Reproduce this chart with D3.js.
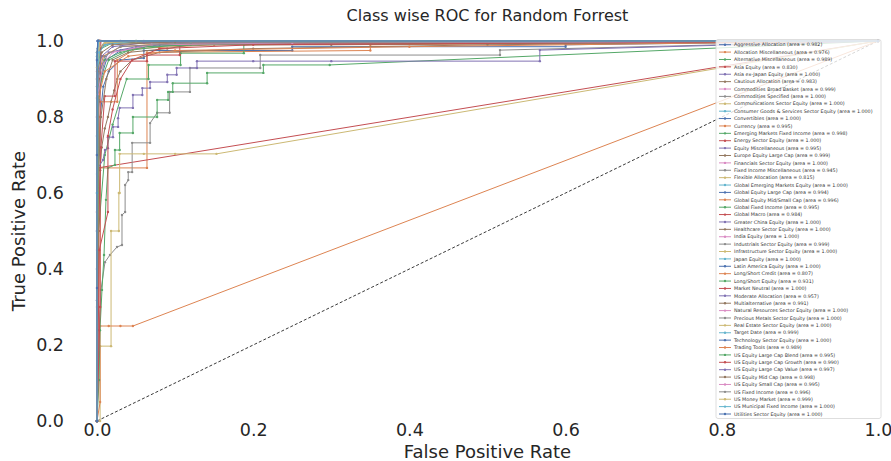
<!DOCTYPE html>
<html><head><meta charset="utf-8">
<script src="https://cdn.jsdelivr.net/npm/d3@7"></script>
<style>body{margin:0;background:#fff} svg{display:block;font-family:"DejaVu Sans",sans-serif}</style>
</head><body><svg id="chart" width="891" height="461"></svg>
<script>
const classNames = ["Aggressive Allocation","Allocation Miscellaneous","Alternative Miscellaneous","Asia Equity","Asia ex-Japan Equity","Cautious Allocation","Commodities Broad Basket","Commodities Specified","Communications Sector Equity","Consumer Goods & Services Sector Equity","Convertibles","Currency","Emerging Markets Fixed Income","Energy Sector Equity","Equity Miscellaneous","Europe Equity Large Cap","Financials Sector Equity","Fixed Income Miscellaneous","Flexible Allocation","Global Emerging Markets Equity","Global Equity Large Cap","Global Equity Mid/Small Cap","Global Fixed Income","Global Macro","Greater China Equity","Healthcare Sector Equity","India Equity","Industrials Sector Equity","Infrastructure Sector Equity","Japan Equity","Latin America Equity","Long/Short Credit","Long/Short Equity","Market Neutral","Moderate Allocation","Multialternative","Natural Resources Sector Equity","Precious Metals Sector Equity","Real Estate Sector Equity","Target Date","Technology Sector Equity","Trading Tools","US Equity Large Cap Blend","US Equity Large Cap Growth","US Equity Large Cap Value","US Equity Mid Cap","US Equity Small Cap","US Fixed Income","US Money Market","US Municipal Fixed Income","Utilities Sector Equity"];
const aucValues = [0.982,0.976,0.989,0.830,1.000,0.983,0.999,1.000,1.000,1.000,1.000,0.995,0.998,1.000,0.995,0.999,1.000,0.945,0.815,1.000,0.994,0.996,0.995,0.984,1.000,1.000,1.000,0.999,1.000,1.000,1.000,0.807,0.931,1.000,0.957,0.991,1.000,1.000,1.000,0.999,1.000,0.989,0.995,0.990,0.997,0.998,0.995,0.996,0.999,1.000,1.000];
// ROC points per class: [false positive rate, true positive rate]
const rocCurves = [
 [[0,0],[0.001,0.6],[0.004,0.8],[0.008,0.88],[0.015,0.92],[0.03,0.95],[0.06,0.955],[0.06,0.975],[0.25,0.975],[0.25,0.985],[0.6,0.985],[0.6,0.99],[1,1]],
 [[0,0],[0.004,0.3],[0.004,0.666],[0.064,0.666],[0.064,0.97],[0.35,0.975],[0.35,0.99],[1,1]],
 [[0,0],[0.002,0.5],[0.01,0.7],[0.02,0.78],[0.038,0.9],[0.066,0.9],[0.066,0.937],[0.107,0.937],[0.107,0.968],[0.188,0.968],[0.188,0.99],[0.5,0.995],[1,1]],
 [[0,0],[0,0.35],[0.001,0.666],[1,1]],
 [[0,0],[0,0.4],[0,0.8],[0.001,0.96],[0.002,1],[1,1]],
 [[0,0],[0.001,0.45],[0.004,0.66],[0.006,0.72],[0.01,0.77],[0.014,0.8],[0.018,0.84],[0.022,0.87],[0.026,0.9],[0.03,0.92],[0.045,0.95],[0.08,0.97],[0.2,0.98],[0.5,0.99],[1,1]],
 [[0,0],[0,0.9],[0.002,0.97],[0.01,0.99],[0.06,1],[1,1]],
 [[0,0],[0,0.5],[0,0.9],[0.001,0.98],[0.003,1],[1,1]],
 [[0,0],[0,0.7],[0.001,0.95],[0.002,1],[1,1]],
 [[0,0],[0,0.6],[0,0.97],[0.001,1],[1,1]],
 [[0,0],[0,0.3],[0,0.75],[0.001,0.93],[0.004,1],[1,1]],
 [[0,0],[0.002,0.7],[0.004,0.8],[0.004,0.84],[0.026,0.84],[0.026,0.95],[0.05,0.98],[0.15,0.99],[1,1]],
 [[0,0],[0.001,0.93],[0.005,0.98],[0.02,0.995],[1,1]],
 [[0,0],[0,0.55],[0.001,0.9],[0.002,1],[1,1]],
 [[0,0],[0.001,0.85],[0.005,0.93],[0.015,0.97],[0.05,0.985],[0.2,0.995],[1,1]],
 [[0,0],[0,0.95],[0.003,0.98],[0.01,0.995],[1,1]],
 [[0,0],[0,0.45],[0,0.85],[0.001,0.97],[0.003,1],[1,1]],
 [[0,0],[0.0013,0.108],[0.0026,0.239],[0.0051,0.345],[0.0102,0.418],[0.0166,0.437],[0.0256,0.458],[0.032,0.463],[0.032,0.542],[0.036,0.55],[0.036,0.621],[0.04,0.634],[0.04,0.655],[0.045,0.655],[0.045,0.732],[0.068,0.732],[0.068,0.784],[0.077,0.811],[0.093,0.811],[0.093,0.866],[0.119,0.866],[0.119,0.929],[0.209,0.929],[0.209,0.963],[0.516,0.963],[0.516,0.976],[1,1]],
 [[0,0],[0.004,0],[0.004,0.197],[0.018,0.197],[0.018,0.5],[0.028,0.5],[0.028,0.6],[0.029,0.6],[0.029,0.703],[0.06,0.703],[0.1,0.703],[0.153,0.703],[1,1]],
 [[0,0],[0,0.65],[0.001,0.96],[0.002,1],[1,1]],
 [[0,0],[0.001,0.8],[0.005,0.9],[0.012,0.95],[0.03,0.975],[0.08,0.99],[0.3,0.995],[1,1]],
 [[0,0],[0.001,0.9],[0.008,0.96],[0.03,0.985],[0.1,0.995],[1,1]],
 [[0,0],[0.001,0.82],[0.006,0.9],[0.015,0.95],[0.04,0.975],[0.1,0.99],[1,1]],
 [[0,0],[0.002,0.5],[0.005,0.72],[0.01,0.855],[0.023,0.855],[0.023,0.947],[0.064,0.947],[0.064,0.963],[0.106,0.963],[0.106,0.992],[1,1]],
 [[0,0],[0,0.8],[0.001,0.98],[0.002,1],[1,1]],
 [[0,0],[0,0.7],[0.002,0.99],[0.003,1],[1,1]],
 [[0,0],[0,0.5],[0,0.92],[0.001,1],[1,1]],
 [[0,0],[0,0.85],[0.002,0.97],[0.008,0.99],[0.03,1],[1,1]],
 [[0,0],[0,0.6],[0.001,0.95],[0.003,1],[1,1]],
 [[0,0],[0,0.75],[0,0.96],[0.001,1],[1,1]],
 [[0,0],[0,0.4],[0,0.88],[0.002,1],[1,1]],
 [[0,0],[0.004,0.05],[0.004,0.25],[0.015,0.25],[0.03,0.25],[0.046,0.25],[1,1]],
 [[0,0],[0.0026,0.108],[0.0038,0.239],[0.0064,0.345],[0.009,0.437],[0.0115,0.582],[0.014,0.666],[0.023,0.674],[0.023,0.713],[0.029,0.713],[0.029,0.758],[0.046,0.758],[0.046,0.8],[0.077,0.8],[0.077,0.845],[0.091,0.845],[0.091,0.866],[0.097,0.866],[0.097,0.889],[0.141,0.889],[0.141,0.916],[0.213,0.916],[0.213,0.937],[0.298,0.937],[1,1]],
 [[0,0],[0.004,0.3],[0.004,0.9],[0.005,1],[1,1]],
 [[0,0],[0,0.318],[0.0013,0.666],[0.0077,0.687],[0.0102,0.713],[0.014,0.718],[0.014,0.747],[0.0205,0.747],[0.0205,0.774],[0.027,0.774],[0.027,0.797],[0.029,0.824],[0.046,0.824],[0.046,0.858],[0.058,0.858],[0.058,0.876],[0.068,0.876],[0.068,0.892],[0.09,0.892],[0.09,0.911],[0.102,0.911],[0.102,0.929],[0.128,0.929],[0.128,0.947],[0.2,0.947],[0.3,0.947],[0.567,0.947],[0.567,0.976],[1,1]],
 [[0,0],[0.001,0.6],[0.005,0.8],[0.012,0.9],[0.02,0.95],[0.04,0.97],[0.09,0.98],[0.12,0.99],[0.3,0.99],[1,1]],
 [[0,0],[0,0.55],[0.001,0.94],[0.003,1],[1,1]],
 [[0,0],[0,0.7],[0,0.97],[0.002,1],[1,1]],
 [[0,0],[0,0.6],[0.001,0.9],[0.003,1],[1,1]],
 [[0,0],[0,0.9],[0.003,0.97],[0.01,0.99],[0.05,1],[1,1]],
 [[0,0],[0,0.5],[0,0.95],[0.001,1],[1,1]],
 [[0,0],[0.002,0.85],[0.01,0.92],[0.04,0.96],[0.1,0.975],[0.4,0.985],[1,1]],
 [[0,0],[0.002,0.88],[0.01,0.95],[0.03,0.97],[0.06,0.985],[0.2,0.995],[1,1]],
 [[0,0],[0.003,0.45],[0.014,0.55],[0.014,0.75],[0.02,0.82],[0.03,0.9],[0.045,0.95],[0.08,0.98],[0.2,0.99],[1,1]],
 [[0,0],[0.001,0.9],[0.006,0.96],[0.02,0.985],[0.06,0.995],[1,1]],
 [[0,0],[0.001,0.92],[0.006,0.97],[0.02,0.99],[0.1,0.998],[1,1]],
 [[0,0],[0.001,0.86],[0.008,0.94],[0.02,0.97],[0.07,0.99],[0.25,0.995],[1,1]],
 [[0,0],[0.001,0.9],[0.01,0.96],[0.03,0.985],[0.12,0.995],[1,1]],
 [[0,0],[0,0.93],[0.002,0.98],[0.01,0.995],[0.05,1],[1,1]],
 [[0,0],[0,0.6],[0.001,0.97],[0.002,1],[1,1]],
 [[0,0],[0,0.35],[0,0.7],[0,0.95],[0.001,1],[1,1]]
];
const xTicks = [0.0,0.2,0.4,0.6,0.8,1.0];
const yTicks = [0.0,0.2,0.4,0.6,0.8,1.0];
const palette = ["#4C72B0","#DD8452","#55A868","#C44E52","#8172B3","#937860","#DA8BC3","#8C8C8C","#CCB974","#64B5CD"];

const svg = d3.select("#chart");
const x = d3.scaleLinear().domain([0,1]).range([97,878]);
const y = d3.scaleLinear().domain([0,1]).range([421,41]);
const color = (i) => palette[i % palette.length];
const textColor = "#262626";

svg.append("path").attr("d", d3.line().x(d=>x(d[0])).y(d=>y(d[1]))([[0,0],[1,1]]))
  .attr("stroke","#222").attr("stroke-width",0.9).attr("stroke-dasharray","3,2").attr("fill","none");

const line = d3.line().x(d=>x(d[0])).y(d=>y(d[1]));
const curvesG = svg.append("g");
rocCurves.forEach((pts,i)=>{
  const g = curvesG.append("g");
  g.append("path").attr("d", line(pts)).attr("fill","none").attr("stroke",color(i)).attr("stroke-width",1);
  g.selectAll("circle").data(pts).join("circle").attr("cx",d=>x(d[0])).attr("cy",d=>y(d[1])).attr("r",1.2).attr("fill",color(i));
});

const xAxis = svg.append("g").attr("transform","translate(0,421)")
  .call(d3.axisBottom(x).tickValues(xTicks).tickFormat(d3.format(".1f")).tickSize(0).tickPadding(3));
const yAxis = svg.append("g").attr("transform","translate(97,0)")
  .call(d3.axisLeft(y).tickValues(yTicks).tickFormat(d3.format(".1f")).tickSize(0).tickPadding(33));
[xAxis,yAxis].forEach(a=>{ a.select(".domain").remove(); a.selectAll("text").attr("font-size",17.5).attr("fill",textColor).attr("font-family","DejaVu Sans"); });

svg.append("text").attr("x",487.5).attr("y",458).attr("text-anchor","middle").attr("font-size",18).attr("fill",textColor).text("False Positive Rate");
svg.append("text").attr("transform","translate(25,231) rotate(-90)").attr("text-anchor","middle").attr("font-size",18).attr("fill",textColor).text("True Positive Rate");
svg.append("text").attr("x",487.5).attr("y",21).attr("text-anchor","middle").attr("font-size",16).attr("fill",textColor).text("Class wise ROC for Random Forrest");

const lg = svg.append("g");
const rowH = 7.386, top0 = 44.7;
lg.append("rect").attr("x",716).attr("y",39.5).attr("width",165).attr("height",379).attr("rx",2)
  .attr("fill","#fff").attr("fill-opacity",0.8).attr("stroke","#d6d6d6").attr("stroke-width",0.8);
classNames.forEach((name,i)=>{
  const yy = top0 + i*rowH;
  lg.append("line").attr("x1",719).attr("x2",731).attr("y1",yy).attr("y2",yy).attr("stroke",color(i)).attr("stroke-width",1);
  lg.append("circle").attr("cx",725).attr("cy",yy).attr("r",1.2).attr("fill",color(i));
  lg.append("text").attr("x",734).attr("y",yy+1.7).attr("font-size",4.8).attr("fill","#333")
    .text(`${name} (area = ${aucValues[i].toFixed(3)})`);
});
</script></body></html>
